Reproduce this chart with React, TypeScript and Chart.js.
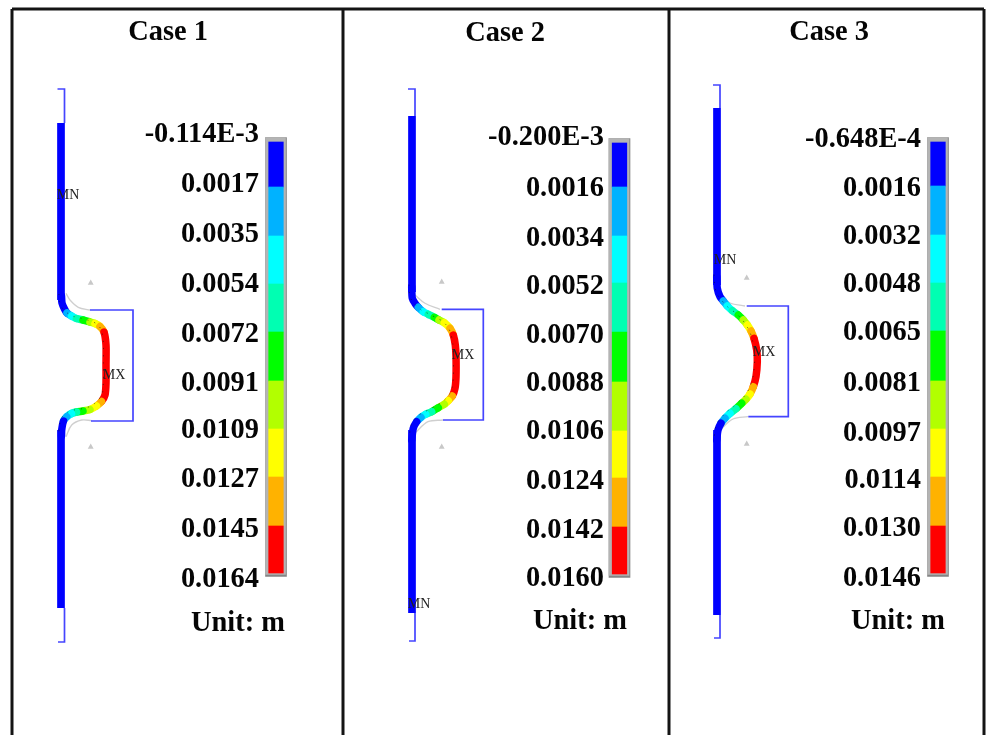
import React, { useEffect, useRef } from "react";
import Chart from "chart.js/auto";

const bandColors = ["#0000ff", "#00b2ff", "#00ffff", "#00ffb2", "#00ff00", "#b2ff00", "#ffff00", "#ffb200", "#ff0000"];

const frameLines = [
  [[12, 9], [984, 9]],
  [[12, 9], [12, 735]],
  [[343, 9], [343, 735]],
  [[669, 9], [669, 735]],
  [[984, 9], [984, 735]],
];

const titles = ["Case 1", "Case 2", "Case 3"];
const titleX = [168, 505, 829];
const titleY = [33, 34, 33];

const unitText = "Unit: m";
const unitX = [238, 580, 898];
const unitY = [624, 622, 622];

const case1Ticks = ["-0.114E-3", "0.0017", "0.0035", "0.0054", "0.0072", "0.0091", "0.0109", "0.0127", "0.0145", "0.0164"];
const case2Ticks = ["-0.200E-3", "0.0016", "0.0034", "0.0052", "0.0070", "0.0088", "0.0106", "0.0124", "0.0142", "0.0160"];
const case3Ticks = ["-0.648E-4", "0.0016", "0.0032", "0.0048", "0.0065", "0.0081", "0.0097", "0.0114", "0.0130", "0.0146"];
const case1TickY = [135, 185, 235, 285, 335, 384, 431, 480, 530, 580];
const case2TickY = [138, 189, 239, 287, 336, 384, 432, 482, 531, 579];
const case3TickY = [140, 189, 237, 285, 333, 384, 434, 481, 529, 579];

const case1Edges = [142, 187, 236, 284, 332, 381, 429, 477, 526, 573];
const case2Edges = [143, 187, 236, 283, 332, 382, 431, 478, 527, 574];
const case3Edges = [142, 186, 235, 283, 331, 381, 429, 477, 526, 573];

const case1CurveX = [61.5, 62, 64.5, 67, 71.5, 76.5, 83, 90, 95, 100, 104, 106, 106, 106, 105, 101.5, 96.5, 90, 83, 76.5, 71.5, 66.7, 63.5, 61.7, 61.5];
const case1CurveY = [296, 303, 309, 313, 316, 318.5, 320, 322, 323.5, 326.5, 332, 345, 365, 383, 395, 401.5, 406, 409.5, 411, 412, 413.5, 416.7, 421, 430, 436];
const case1Bands = [0, 0, 0, 1, 2, 3, 4, 5, 6, 7, 8, 8, 8, 8, 8, 7, 6, 5, 4, 3, 2, 1, 0, 0, 0];

const case2CurveX = [411.7, 412.3, 415, 418.3, 423.3, 428.3, 434.3, 439, 444.3, 450, 453.3, 455.3, 456, 456, 455, 452.3, 448.3, 444.3, 438.3, 431.7, 425.7, 421, 416.7, 413.3, 411.7];
const case2CurveY = [286.7, 298.3, 303.3, 307.3, 311.7, 314.3, 317.3, 320, 322.7, 328.3, 335, 345, 356.7, 376.7, 388.3, 396, 400.7, 404.3, 407.7, 411.7, 414.3, 417.3, 421.7, 428.3, 440];
const case2Bands = [0, 0, 0, 1, 2, 3, 4, 5, 6, 7, 8, 8, 8, 8, 8, 7, 6, 5, 4, 3, 2, 1, 0, 0, 0];

const case3CurveX = [716.7, 717.3, 720, 723.3, 727.3, 732.3, 738.3, 743.3, 747.3, 751, 754, 756.7, 757.3, 756, 753.3, 750, 746, 741.7, 736, 730, 725, 721, 718, 716.7];
const case3CurveY = [276.7, 288.3, 296.7, 301, 306, 310.7, 315, 320, 325, 331, 338.3, 350, 361.7, 376.7, 386.7, 394, 399.3, 403.3, 408.7, 413.3, 418.3, 423.3, 430, 440];
const case3Bands = [0, 0, 0, 1, 2, 3, 4, 5, 6, 7, 8, 8, 8, 8, 7, 6, 5, 4, 3, 2, 1, 0, 0, 0];

const stripX = [61, 412, 717];
const stripTop = [123, 116, 108];
const stripLowerStart = [430, 430, 430];
const stripUpperEnd = [300, 292, 285];
const stripBottom = [608, 613, 615];

const case1Support = [
  [[57.5, 89], [64.5, 89], [64.5, 123]],
  [[58, 642], [64.5, 642], [64.5, 608]],
  [[90, 310], [133, 310], [133, 421], [91, 421]],
];
const case2Support = [
  [[408, 89], [415, 89], [415, 116]],
  [[409, 641], [415, 641], [415, 613]],
  [[441.7, 309.3], [483.3, 309.3], [483.3, 420], [443, 420]],
];
const case3Support = [
  [[713, 85], [720, 85], [720, 108]],
  [[714, 638], [720, 638], [720, 615]],
  [[746.7, 306], [788.3, 306], [788.3, 416.7], [748.3, 416.7]],
];

const case1Undeformed = [
  [[66, 293.3], [70, 300], [78.3, 307.3], [90, 310]],
  [[91.7, 420.7], [81.7, 420], [71.7, 425], [66, 436.7]],
];
const case2Undeformed = [
  [[415, 295], [425, 303.3], [440, 309.3]],
  [[443, 420], [428, 421.7], [415, 433]],
];
const case3Undeformed = [
  [[720, 295], [730, 303], [745, 306]],
  [[748, 416.7], [733, 419], [720, 430]],
];

const markerPoints = [
  { x: 90.7, y: 283 }, { x: 90.7, y: 447 },
  { x: 441.7, y: 282 }, { x: 441.7, y: 447 },
  { x: 746.7, y: 278 }, { x: 746.7, y: 444 },
];

const mnMxLabels = ["MN", "MX", "MX", "MN", "MN", "MX"];
const mnMxX = [68, 114, 463, 419, 725, 764];
const mnMxY = [195, 375, 355, 604, 260, 352];

const barCentre = [276, 619.5, 938];
const tickRight = [259, 604, 921];

const toPts = (p: number[][]) => p.map(([x, y]) => ({ x, y }));
const zip = (xs: number[], ys: number[]) => xs.map((x, i) => ({ x, y: ys[i] }));

const line = (data: any[], color: string, width: number, extra: any = {}) => ({
  type: "line",
  data,
  borderColor: color,
  borderWidth: width,
  pointRadius: 0,
  fill: false,
  tension: 0,
  clip: false,
  ...extra,
});

const labelPlugin = {
  id: "figureText",
  afterDatasetsDraw(chart: any) {
    const { ctx, scales } = chart;
    const px = (v: number) => scales.x.getPixelForValue(v);
    const py = (v: number) => scales.y.getPixelForValue(v);
    ctx.save();
    ctx.fillStyle = "#050505";
    ctx.textBaseline = "middle";
    ctx.font = "bold 28.4px 'Liberation Serif'";
    ctx.textAlign = "center";
    titles.forEach((t, i) => ctx.fillText(t, px(titleX[i]), py(titleY[i])));
    unitX.forEach((x, i) => ctx.fillText(unitText, px(x), py(unitY[i])));
    ctx.textAlign = "right";
    [case1Ticks, case2Ticks, case3Ticks].forEach((ticks, c) => {
      const ys = [case1TickY, case2TickY, case3TickY][c];
      ticks.forEach((t, i) => ctx.fillText(t, px(tickRight[c]), py(ys[i])));
    });
    ctx.font = "14px 'Liberation Serif'";
    ctx.fillStyle = "#222222";
    ctx.textAlign = "center";
    mnMxLabels.forEach((t, i) => ctx.fillText(t, px(mnMxX[i]), py(mnMxY[i])));
    ctx.restore();
  },
};

function buildDatasets() {
  const sets: any[] = [];
  const curves = [
    [case1CurveX, case1CurveY, case1Bands],
    [case2CurveX, case2CurveY, case2Bands],
    [case3CurveX, case3CurveY, case3Bands],
  ];
  const edges = [case1Edges, case2Edges, case3Edges];
  const supports = [case1Support, case2Support, case3Support];
  const undeformed = [case1Undeformed, case2Undeformed, case3Undeformed];

  // first dataset is painted last: faint mesh nodes along the inner edge of each curve
  curves.forEach(([xs, ys]) => {
    sets.push(
      line(
        zip(xs.map((x) => x - 2.6), ys.map((y) => y - 2)),
        "rgba(20,20,20,0.55)",
        1,
        { tension: 0.25, borderDash: [1.2, 6] }
      )
    );
  });
  curves.forEach(([xs, ys, bands]) => {
    sets.push(
      line(zip(xs, ys), bandColors[0], 7.5, {
        tension: 0.25,
        borderCapStyle: "round",
        borderJoinStyle: "round",
        segment: { borderColor: (c: any) => bandColors[bands[c.p0DataIndex]] },
      })
    );
  });
  stripX.forEach((x, i) => {
    sets.push(line([{ x, y: stripTop[i] }, { x, y: stripUpperEnd[i] }], bandColors[0], 7.7));
    sets.push(line([{ x, y: stripLowerStart[i] }, { x, y: stripBottom[i] }], bandColors[0], 7.7));
  });
  supports.forEach((group) =>
    group.forEach((p) => sets.push(line(toPts(p), "#4545ff", 1.7)))
  );
  undeformed.forEach((group) =>
    group.forEach((p) => sets.push(line(toPts(p), "#cfcfcf", 1.3, { tension: 0.35 })))
  );
  sets.push({
    type: "scatter",
    data: markerPoints,
    pointStyle: "triangle",
    pointRadius: 3.4,
    pointBackgroundColor: "#c8c8c8",
    pointBorderWidth: 0,
    showLine: false,
  });
  frameLines.forEach((p) => sets.push(line(toPts(p), "#141414", 3)));

  edges.forEach((e, c) => {
    const x = barCentre[c];
    sets.push({
      type: "bar",
      data: bandColors.map((_, i) => ({ x, y: [e[i], e[i + 1]] })),
      backgroundColor: bandColors,
      barThickness: 14.6,
      grouped: false,
    });
    sets.push({
      type: "bar",
      data: [{ x: x - 0.5, y: [e[0] - 4.5, e[9] + 1.5] }],
      backgroundColor: "#b4b4b4",
      barThickness: 20,
      grouped: false,
    });
    sets.push({
      type: "bar",
      data: [{ x, y: [e[0] - 4.5, e[9] + 3.5] }],
      backgroundColor: "#858585",
      barThickness: 21,
      grouped: false,
    });
  });
  return sets;
}

export default function App() {
  const ref = useRef<HTMLCanvasElement | null>(null);
  useEffect(() => {
    document.body.style.margin = "0";
    document.body.style.background = "#ffffff";
    const chart = new Chart(ref.current as HTMLCanvasElement, {
      type: "bar",
      data: { datasets: buildDatasets() as any },
      plugins: [labelPlugin],
      options: {
        animation: false,
        responsive: false,
        layout: { padding: 0, autoPadding: false },
        plugins: { legend: { display: false }, tooltip: { enabled: false }, title: { display: false } },
        scales: {
          x: { type: "linear", min: 0, max: 986, display: false, offset: false },
          y: { type: "linear", min: 0, max: 735, reverse: true, display: false },
        },
      } as any,
    });
    return () => chart.destroy();
  }, []);
  return (
    <div style={{ width: 986, height: 735 }}>
      <canvas ref={ref} width={986} height={735} style={{ display: "block", filter: "blur(0.45px)" }} />
    </div>
  );
}
